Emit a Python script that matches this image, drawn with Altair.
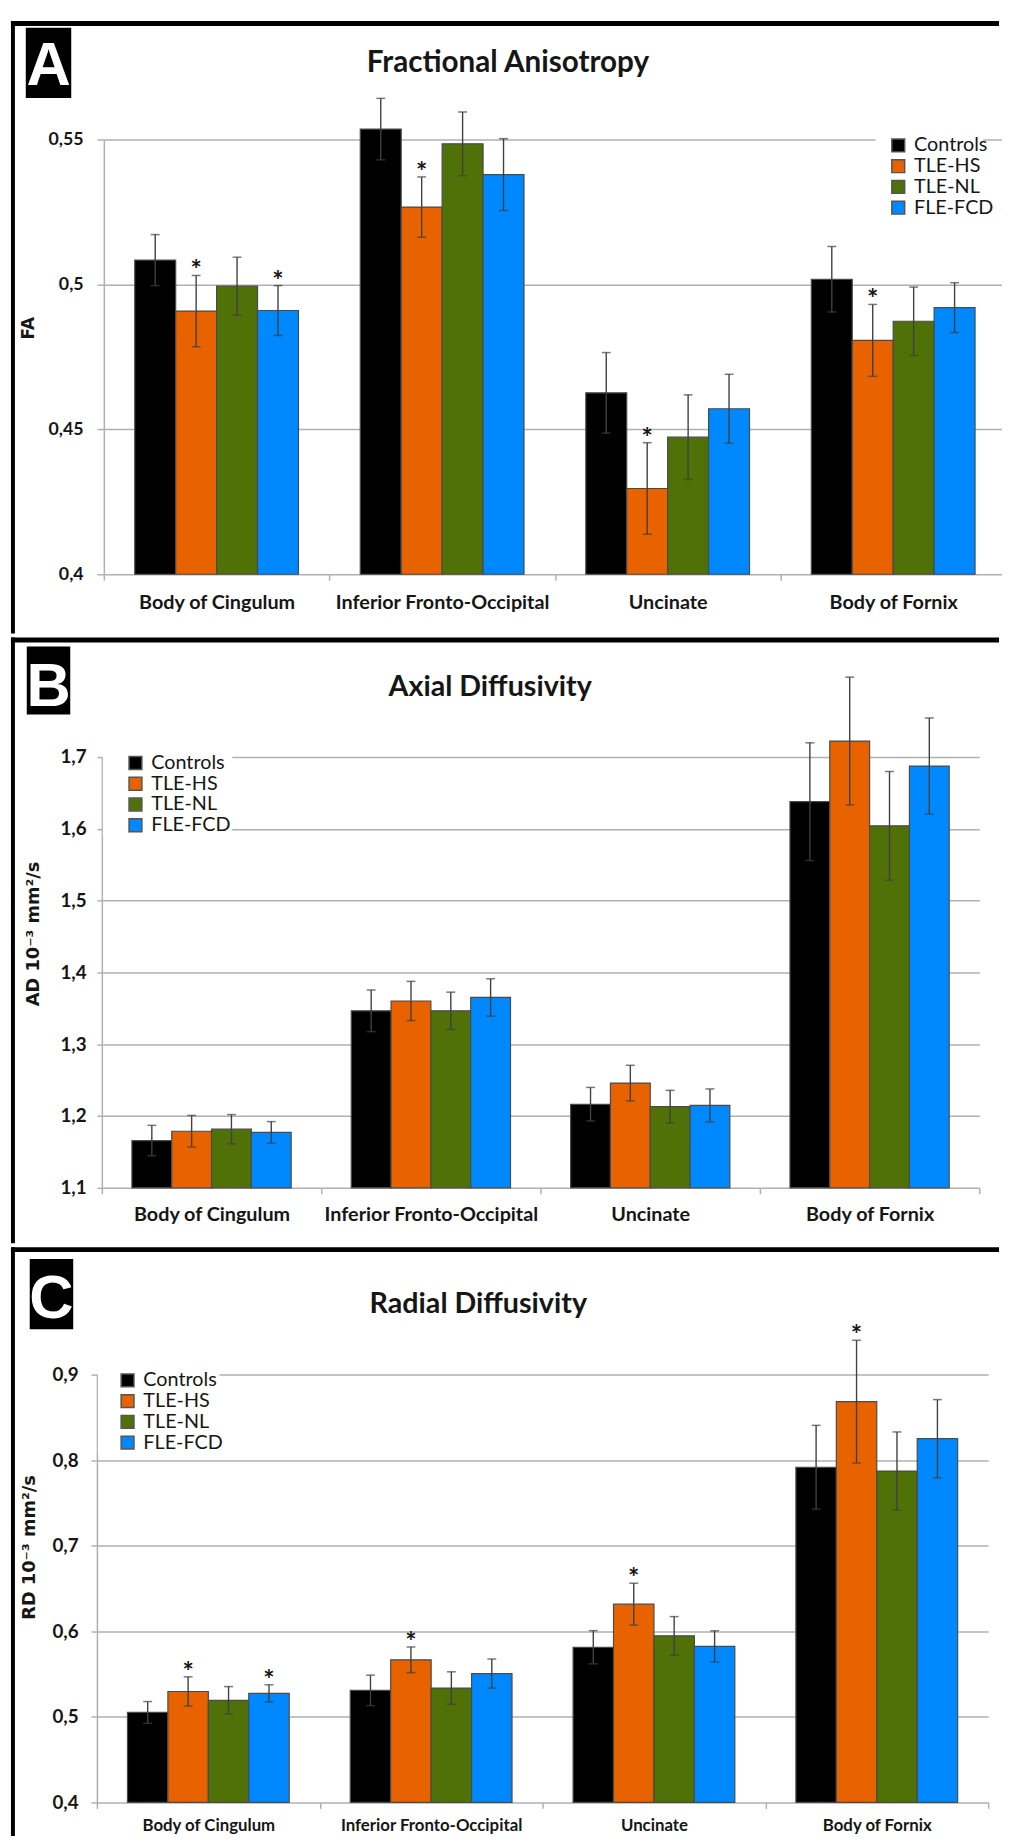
import altair as alt
import pandas as pd

regions = ["Body of Cingulum", "Inferior Fronto-Occipital", "Uncinate", "Body of Fornix"]
groups = ["Controls", "TLE-HS", "TLE-NL", "FLE-FCD"]
colors = ["#000000", "#E86200", "#507008", "#0089FF"]

# Fractional anisotropy (region-major, groups in order above)
fa_mean = [0.5084, 0.4908, 0.4994, 0.4910,
           0.5536, 0.5267, 0.5485, 0.5379,
           0.4626, 0.4296, 0.4473, 0.4571,
           0.5018, 0.4807, 0.4873, 0.4920]
fa_sd = [0.0088, 0.0123, 0.0100, 0.0086,
         0.0106, 0.0104, 0.0110, 0.0124,
         0.0139, 0.0158, 0.0146, 0.0119,
         0.0113, 0.0124, 0.0118, 0.0086]
fa_sig = [0, 1, 0, 1, 0, 1, 0, 0, 0, 1, 0, 0, 0, 1, 0, 0]

# Axial diffusivity
ad_mean = [1.1659, 1.1789, 1.1817, 1.1773,
           1.3466, 1.3603, 1.3466, 1.3652,
           1.2165, 1.2459, 1.2132, 1.2149,
           1.6379, 1.7223, 1.6042, 1.6875]
ad_sd = [0.0212, 0.0220, 0.0204, 0.0150,
         0.0290, 0.0273, 0.0260, 0.0260,
         0.0234, 0.0248, 0.0226, 0.0229,
         0.0820, 0.0890, 0.0757, 0.0670]
ad_sig = [0] * 16

# Radial diffusivity
rd_mean = [0.5052, 0.5297, 0.5194, 0.5275,
           0.5310, 0.5667, 0.5337, 0.5506,
           0.5814, 0.6317, 0.5947, 0.5823,
           0.7917, 0.8684, 0.7873, 0.8251]
rd_sd = [0.0127, 0.0171, 0.0160, 0.0100,
         0.0178, 0.0150, 0.0190, 0.0170,
         0.0194, 0.0245, 0.0225, 0.0183,
         0.0490, 0.0717, 0.0457, 0.0457]
rd_sig = [0, 1, 0, 1, 0, 1, 0, 0, 0, 1, 0, 0, 0, 1, 0, 0]

fa_ticks = [0.4, 0.45, 0.5, 0.55]
ad_ticks = [1.1, 1.2, 1.3, 1.4, 1.5, 1.6, 1.7]
rd_ticks = [0.4, 0.5, 0.6, 0.7, 0.8, 0.9]


def frame(means, sds, sig):
    rows = []
    for i, r in enumerate(regions):
        for j, g in enumerate(groups):
            k = i * 4 + j
            rows.append({"region": r, "group": g, "mean": means[k],
                         "lo": means[k] - sds[k], "hi": means[k] + sds[k],
                         "sig": "*" if sig[k] else ""})
    return pd.DataFrame(rows)


one = pd.DataFrame({"k": [0]})
GRID = "#b0b0b0"
TXT = "#161616"


def panel(df, ticks, fmt, height, width, xrange, xaxis_extra, yoff, ytick, ypad, yfs,
          xfs, xpad, title, title_x, title_y, title_fs, ytitle, ytitle_x, ytitle_y, ytitle_fs,
          letter, box, letter_x, letter_y, leg_x, leg_y, leg_bg, top, bottom):
    ydom = [ticks[0], ticks[-1]]
    yscale = alt.Scale(domain=ydom, nice=False, zero=False)
    xscale = alt.Scale(domain=regions, range=xrange, paddingInner=0, paddingOuter=0)
    oscale = alt.Scale(domain=groups, paddingInner=0, paddingOuter=0.755)
    yaxis = alt.Axis(values=ticks, format=fmt, labelExpr="replace(datum.label, '.', ',')",
                     title=None, grid=True, gridColor=GRID, gridWidth=1.5,
                     domainColor=GRID, domainWidth=1.5, tickColor=GRID, tickWidth=1.5,
                     tickSize=ytick, labelPadding=ypad, offset=yoff,
                     labelFont="Lato", labelFontWeight="bold", labelFontSize=yfs,
                     labelColor=TXT)
    xaxis = alt.Axis(title=None, domain=False, grid=False, ticks=True, tickColor=GRID,
                     tickWidth=1.5, tickSize=6, labelAngle=0, labelFont="Lato",
                     labelFontWeight="bold", labelFontSize=xfs, labelColor=TXT,
                     labelPadding=xpad, labelBaseline="middle", labelLimit=400,
                     labelOverlap=False, **xaxis_extra)
    X = alt.X("region:N", scale=xscale, axis=xaxis)
    XO = alt.XOffset("group:N", scale=oscale)

    base = alt.Chart(df)
    deco = alt.Chart(one)

    bounds = deco.mark_rect(fill="white", opacity=0).encode(
        x=alt.value(-87), x2=alt.value(913), y=alt.value(top), y2=alt.value(bottom))
    top_line = deco.mark_rule(color="black", strokeWidth=5).encode(
        x=alt.value(-87), x2=alt.value(913), y=alt.value(top + 2.5))
    left_line = deco.mark_rule(color="black", strokeWidth=4).encode(
        x=alt.value(-85), y=alt.value(top), y2=alt.value(bottom))
    lbox = deco.mark_rect(color="black").encode(
        x=alt.value(box[0]), x2=alt.value(box[1]), y=alt.value(box[2]), y2=alt.value(box[3]))
    ltext = deco.mark_text(font="Liberation Sans", fontWeight="bold", fontSize=62,
                           color="white", align="center", baseline="alphabetic").encode(
        x=alt.value(letter_x), y=alt.value(letter_y), text=alt.value(letter))
    ttext = deco.mark_text(font="Lato", fontWeight="bold", fontSize=title_fs, color=TXT,
                           align="center", baseline="alphabetic").encode(
        x=alt.value(title_x), y=alt.value(title_y), text=alt.value(title))
    ytext = deco.mark_text(font="DejaVu Sans", fontWeight="bold", fontSize=ytitle_fs,
                           color=TXT, align="center", baseline="middle", angle=270).encode(
        x=alt.value(ytitle_x), y=alt.value(ytitle_y), text=alt.value(ytitle))
    legbg = deco.mark_rect(color="white").encode(
        x=alt.value(leg_bg[0]), x2=alt.value(leg_bg[1]), y=alt.value(leg_bg[2]), y2=alt.value(leg_bg[3]))

    bars = base.mark_bar(stroke="#4a4a4a", strokeWidth=1.2).encode(
        x=X, xOffset=XO,
        y=alt.Y("mean:Q", scale=yscale, axis=yaxis),
        y2=alt.datum(ydom[0]),
        color=alt.Color("group:N", scale=alt.Scale(domain=groups, range=colors),
                        legend=alt.Legend(orient="none", legendX=leg_x, legendY=leg_y,
                                          title=None, symbolType="square", symbolSize=169,
                                          symbolStrokeColor="#555555", symbolStrokeWidth=1.5,
                                          symbolOpacity=1, labelFont="Lato", labelFontSize=20,
                                          labelColor=TXT, labelOffset=6, rowPadding=1,
                                          padding=0)),
    )
    err = base.mark_rule(color="#404040", strokeWidth=1.4).encode(
        x=X, xOffset=XO,
        y=alt.Y("lo:Q", scale=yscale, axis=yaxis), y2="hi:Q")
    cap_hi = base.mark_tick(color="#404040", size=9, thickness=1.5, orient="horizontal").encode(
        x=X, xOffset=XO, y=alt.Y("hi:Q", scale=yscale, axis=yaxis))
    cap_lo = base.mark_tick(color="#404040", size=9, thickness=1.5, orient="horizontal").encode(
        x=X, xOffset=XO, y=alt.Y("lo:Q", scale=yscale, axis=yaxis))
    stars = base.transform_filter(alt.datum.sig == "*").mark_text(
        font="Lato", fontWeight="bold", fontSize=27, color=TXT, align="center",
        baseline="alphabetic", dy=4).encode(
        x=X, xOffset=XO, y=alt.Y("hi:Q", scale=yscale, axis=yaxis), text="sig:N")

    return alt.layer(bounds, top_line, left_line, lbox, ltext, ttext, ytext, legbg,
                     bars, err, cap_hi, cap_lo, stars).properties(width=width, height=height)


pa = panel(frame(fa_mean, fa_sd, fa_sig), fa_ticks, ".2~f", 440, 913, [7, 920],
           {"tickOffset": -114.125, "labelOffset": 114.125}, -7, 7, 14, 18,
           20, 23, "Fractional Anisotropy", 416, -68.7, 30,
           "FA", -69, 191, 17,
           "A", [-72, -26, -113, -42], -49, -55, 801, -4, [788, 897, -10, 80], -120, 500)

pb = panel(frame(ad_mean, ad_sd, ad_sig), ad_ticks, ".1f", 436, 892, [5, 893],
           {"tickBand": "extent"}, -5, 5, 11, 19,
           20, 21, "Axial Diffusivity", 398, -62, 29,
           "AD 10\u207b\u00b3 mm\u00b2/s", -64, 179, 18,
           "B", [-71, -27, -112, -43], -49, -52, 29, -4, [6, 137, -10, 80], -121, 492)

pc = panel(frame(rd_mean, rd_sd, rd_sig), rd_ticks, ".1f", 433, 902, [0, 902],
           {"tickBand": "extent"}, 0, 6, 13, 19,
           17, 17, "Radial Diffusivity", 386, -62.5, 29,
           "RD 10\u207b\u00b3 mm\u00b2/s", -68, 175, 18,
           "C", [-68, -24, -117, -46], -46, -57.5, 21, -4.2, [1, 124, -10, 80], -129, 467)

chart = alt.vconcat(pa, pb, pc, spacing=0).resolve_scale(
    color="independent", x="independent", y="independent", xOffset="independent"
).properties(padding=0, background="white").configure_view(strokeWidth=0)

chart.save("out.html", embed_options={"renderer": "svg", "actions": False})
